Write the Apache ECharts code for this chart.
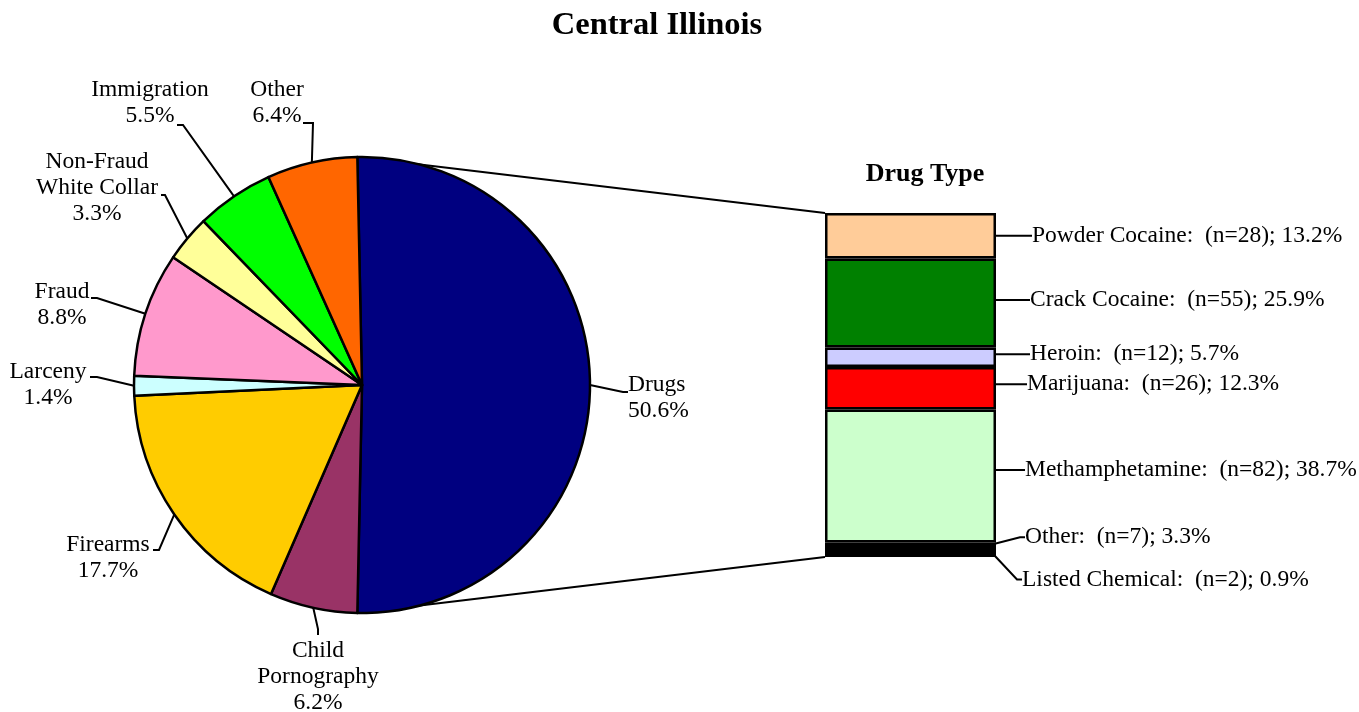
<!DOCTYPE html>
<html>
<head>
<meta charset="utf-8">
<script src="https://cdn.jsdelivr.net/npm/echarts@6/dist/echarts.min.js"></script>
<style>html,body{margin:0;padding:0;background:#fff;}#c{width:1359px;height:712px;}</style>
</head>
<body>
<div id="c"></div>
<script>
// ---- data ----
var offenseNames = ['Drugs', 'Child Pornography', 'Firearms', 'Larceny', 'Fraud', 'Non-Fraud White Collar', 'Immigration', 'Other'];
var offensePct = [50.6, 6.2, 17.7, 1.4, 8.8, 3.3, 5.5, 6.4];
var offenseColors = ['#000080', '#993366', '#FFCC00', '#CCFFFF', '#FF99CC', '#FFFF99', '#00FF00', '#FF6600'];

var drugNames = ['Powder Cocaine', 'Crack Cocaine', 'Heroin', 'Marijuana', 'Methamphetamine', 'Other', 'Listed Chemical'];
var drugCounts = [28, 55, 12, 26, 82, 7, 2];
var drugPct = [13.2, 25.9, 5.7, 12.3, 38.7, 3.3, 0.9];
var drugColors = ['#FFCC99', '#008000', '#CCCCFF', '#FF0000', '#CCFFCC', '#000000', '#1a1a00'];

// ---- layout ----
var FONT = 'Liberation Serif, Times New Roman, serif';
var pieCx = 362, pieCy = 385, pieR = 228;
var gLeft = 825, gTop = 213, gW = 171, gH = 344;
// rotate pie so the Drugs slice is centred on the right-hand side (bar-of-pie style)
var totalPct = offensePct.reduce(function (a, b) { return a + b; }, 0);
var drugsDeg = offensePct[0] / totalPct * 360;
var pieStart = 90 + (drugsDeg - 180) / 2;
var topRad = pieStart * Math.PI / 180;
var botRad = (pieStart - drugsDeg) * Math.PI / 180;

// label placement relative to pie center (dx,dy), leader bend (bx,by) and end (ex,ey)
var pieLabelPos = [
  {dx: 266, dy: 13, align: 'left',   bx: 261, by: 7,    ex: 266, ey: 7},
  {dx: -44, dy: 292, align: 'center', bx: -44, by: 244,  ex: -44, ey: 250},
  {dx: -254, dy: 173, align: 'center', bx: -203, by: 165, ex: -209, ey: 165},
  {dx: -314, dy: 0, align: 'center',  bx: -265, by: -8,   ex: -272, ey: -8},
  {dx: -300, dy: -80, align: 'center', bx: -265, by: -87, ex: -271, ey: -87},
  {dx: -265, dy: -197, align: 'center', bx: -197, by: -190, ex: -201, ey: -190},
  {dx: -212, dy: -282, align: 'center', bx: -179, by: -260, ex: -185, ey: -260},
  {dx: -85, dy: -282, align: 'center', bx: -49, by: -262, ex: -59, ey: -262}
];
var drugLabelDx = [36, 34, 34, 31, 29, 29, 26];
var drugLabelDy = [0, -3, -3, -4, -6, -11, 24];

function pieLabelText(name) {
  return name.replace('Non-Fraud ', 'Non-Fraud\n').replace('Child ', 'Child\n');
}

var series = [];
series.push({
  type: 'pie',
  center: [pieCx, pieCy],
  radius: pieR,
  startAngle: pieStart,
  clockwise: true,
  animation: false,
  data: offenseNames.map(function (n, i) {
    return {name: n, value: offensePct[i], itemStyle: {color: offenseColors[i]}};
  }),
  itemStyle: {borderColor: '#000', borderWidth: 2.5},
  label: {
    show: true,
    position: 'outside',
    formatter: function (p) { return pieLabelText(p.name) + '\n' + p.value.toFixed(1) + '%'; },
    fontFamily: FONT, fontSize: 23.5, lineHeight: 26, color: '#000'
  },
  labelLine: {show: true, length: 10, length2: 6, smooth: false, lineStyle: {color: '#000', width: 2}},
  labelLayout: function (p) {
    var pos = pieLabelPos[p.dataIndex];
    var out = {x: pieCx + pos.dx, y: pieCy + pos.dy, align: pos.align, verticalAlign: 'middle'};
    if (p.labelLinePoints && p.labelLinePoints[0]) {
      out.labelLinePoints = [
        [p.labelLinePoints[0][0], p.labelLinePoints[0][1]],
        [pieCx + pos.bx, pieCy + pos.by],
        [pieCx + pos.ex, pieCy + pos.ey]
      ];
    }
    return out;
  },
  emphasis: {disabled: true}
});

drugNames.forEach(function (n, i) {
  series.push({
    type: 'bar',
    name: n,
    stack: 'drug',
    barWidth: '100%',
    animation: false,
    data: [drugPct[i]],
    itemStyle: {color: drugColors[i], borderColor: '#000', borderWidth: 2.5},
    label: {
      show: true,
      position: 'right',
      formatter: n + ':  (n=' + drugCounts[i] + '); ' + drugPct[i].toFixed(1) + '%',
      fontFamily: FONT, fontSize: 23.5, color: '#000'
    },
    labelLine: {show: true, length2: 5, lineStyle: {color: '#000', width: 2}},
    labelLayout: function (p) {
      return {x: p.rect.x + p.rect.width + drugLabelDx[i], y: p.rect.y + p.rect.height / 2 + drugLabelDy[i], align: 'left', verticalAlign: 'middle'};
    },
    emphasis: {disabled: true}
  });
});

var chart = echarts.init(document.getElementById('c'));
chart.setOption({
  backgroundColor: '#fff',
  animation: false,
  title: [
    {text: 'Central Illinois', left: 652, textAlign: 'center', top: 4,
     textStyle: {fontFamily: FONT, fontSize: 32.5, fontWeight: 'bold', color: '#000'}},
    {text: 'Drug Type', left: 920, textAlign: 'center', top: 156,
     textStyle: {fontFamily: FONT, fontSize: 26, fontWeight: 'bold', color: '#000'}}
  ],
  grid: {left: gLeft, top: gTop, width: gW, height: gH},
  xAxis: {type: 'category', data: ['Drug Type'], show: false},
  yAxis: {type: 'value', min: 0, max: 100, inverse: true, show: false},
  graphic: [
    {type: 'line', z: 0, shape: {x1: pieCx + pieR * Math.cos(topRad), y1: pieCy - pieR * Math.sin(topRad), x2: gLeft, y2: gTop}, style: {stroke: '#000', lineWidth: 2}},
    {type: 'line', z: 0, shape: {x1: pieCx + pieR * Math.cos(botRad), y1: pieCy - pieR * Math.sin(botRad), x2: gLeft, y2: gTop + gH}, style: {stroke: '#000', lineWidth: 2}}
  ],
  series: series
});
</script>
</body>
</html>
